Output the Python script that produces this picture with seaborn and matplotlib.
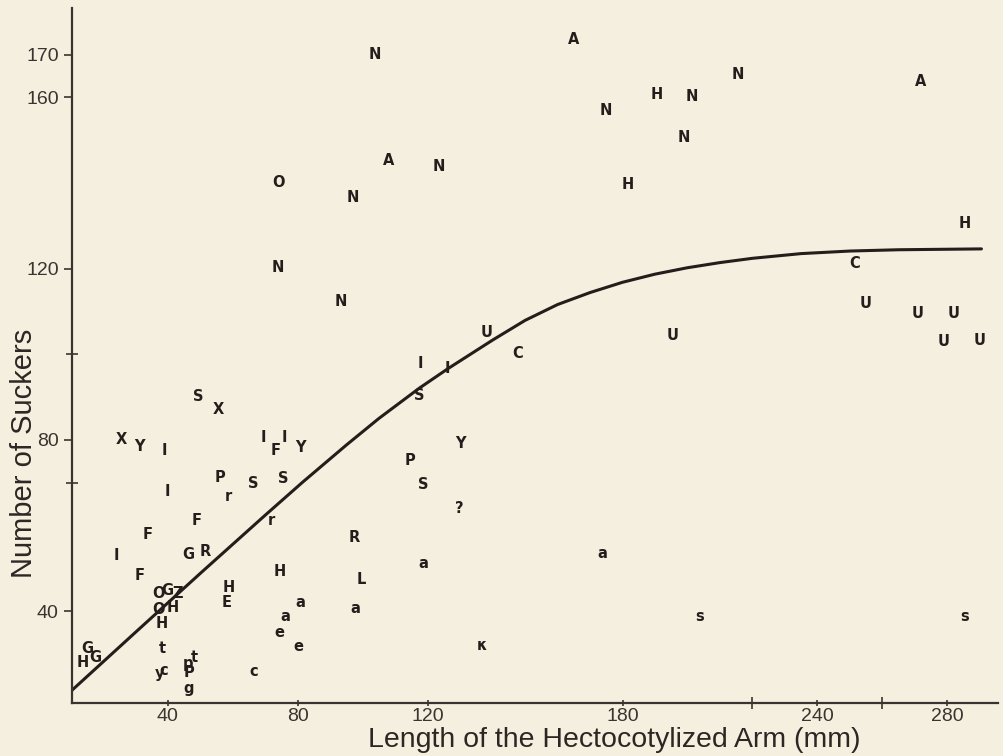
import matplotlib
matplotlib.use("Agg")
from matplotlib import pyplot as plt
import seaborn as sns
import pandas as pd

# letter codes (species) plotted at their measured positions
letters = ["N", "A", "N", "H", "N", "N", "A", "N", "H", "A", "N", "O", "N", "N", "N",
           "H", "C", "U", "U", "U", "U", "U", "U", "U", "C", "I", "I", "S",
           "S", "X", "X", "Y", "I", "I", "P", "r", "S", "S", "I", "F", "I", "Y", "r",
           "F", "F", "I", "G", "R", "F", "H", "H", "E", "O", "G", "Z", "O", "H", "H",
           "t", "y", "c", "p", "t", "P", "g", "c", "G", "H", "G", "a", "a", "e", "e",
           "Y", "P", "S", "?", "R", "a", "a", "L", "a", "κ", "s", "s"]
arm_length = [103.7, 164.9, 174.8, 190.5, 201.2, 215.4, 271.7, 199.0, 181.5, 108.0, 123.4, 74.2, 96.9, 73.8, 93.2,
              285.5, 251.4, 254.8, 271.0, 282.0, 279.0, 289.8, 195.4, 138.2, 147.7, 117.8, 126.2, 117.5,
              49.5, 55.7, 25.8, 31.4, 38.8, 40.0, 56.0, 58.5, 66.2, 75.4, 69.5, 73.2, 76.0, 80.9, 72.0,
              48.9, 33.8, 24.3, 46.2, 51.4, 31.4, 74.5, 58.8, 58.2, 37.2, 40.0, 43.0, 37.0, 41.6, 38.2,
              38.2, 37.5, 38.8, 46.2, 48.3, 46.5, 46.5, 66.5, 15.1, 13.8, 17.8, 80.9, 76.3, 74.2, 80.3,
              130.2, 114.5, 118.5, 129.8, 97.5, 118.8, 173.8, 99.7, 97.8, 136.6, 203.7, 285.2]
suckers = [169.9, 173.4, 157.0, 160.7, 160.3, 165.4, 163.6, 150.7, 139.7, 145.3, 143.9, 140.0, 136.7, 120.3, 112.4,
           130.6, 121.3, 111.9, 109.6, 109.6, 103.0, 103.3, 104.4, 105.1, 100.2, 97.9, 96.7, 90.4,
           90.2, 87.1, 80.1, 78.5, 77.6, 68.0, 71.3, 66.8, 69.9, 71.0, 80.6, 77.6, 80.6, 78.3, 61.2,
           61.2, 57.9, 53.0, 53.3, 54.0, 48.4, 49.3, 45.6, 42.1, 44.2, 44.9, 44.2, 40.4, 40.9, 37.1,
           31.3, 25.5, 26.2, 27.8, 29.2, 25.7, 22.0, 25.9, 31.3, 28.0, 29.2, 42.1, 38.8, 35.0, 31.8,
           79.2, 75.2, 69.6, 64.0, 57.2, 51.2, 53.5, 47.4, 40.7, 32.0, 38.8, 38.8]

# fitted curve
curve_x = [10.5, 30, 50, 70, 81.5, 95, 105, 117.5, 126.2, 140, 150, 160, 170, 180,
           190, 200, 210, 220, 235, 250, 265, 290.5]
curve_y = [21.5, 35.0, 48.8, 62.4, 70.1, 78.8, 85.0, 92.1, 96.6, 103.3, 107.9, 111.6, 114.4, 116.8,
           118.7, 120.2, 121.4, 122.4, 123.5, 124.1, 124.4, 124.6]

x_ticks = [40, 80, 120, 180, 240, 280]
y_ticks = [40, 80, 120, 160, 170]

paper = "#f5efdf"
ink = "#231e1b"
grey = "#3a3430"

sns.set_theme(style="ticks")
plt.rcParams["font.family"] = ["Liberation Sans", "DejaVu Sans"]

fig = plt.figure(figsize=(10.04, 7.56), dpi=100, facecolor=paper)
ax = fig.add_axes([0.0717, 0.070, 0.922, 0.919])
ax.set_facecolor(paper)

curve = pd.DataFrame({"x": curve_x, "y": curve_y})
sns.lineplot(data=curve, x="x", y="y", ax=ax, color=ink, linewidth=2.2, sort=False)

for lab, xv, yv in zip(letters, arm_length, suckers):
    ax.text(xv, yv, lab, ha="center", va="center", fontsize=10.5, fontweight="bold",
            color=ink, family=["DejaVu Sans"])

ax.set_xlim(10.5, 295.5)
ax.set_ylim(18.5, 180.8)
ax.set_xticks(x_ticks)
ax.set_yticks(y_ticks)
ax.set_xticks([220, 260], minor=True)
ax.set_yticks([70, 100], minor=True)
ax.tick_params(axis="both", which="major", labelsize=14, colors=grey, length=6, width=1.2)
ax.tick_params(axis="x", which="major", direction="inout", length=5, pad=1)
ax.tick_params(axis="both", which="minor", direction="inout", length=8, width=1.2, color=grey)

sns.despine(ax=ax)
for s in ["left", "bottom"]:
    ax.spines[s].set_color(grey)
    ax.spines[s].set_linewidth(1.6)

ax.set_xlabel("Length of the Hectocotylized Arm (mm)", fontsize=20.5, color="#2c2724")
ax.set_ylabel("Number of Suckers", fontsize=21, color="#2c2724")
ax.xaxis.set_label_coords(0.586, -0.034)
ax.yaxis.set_label_coords(-0.037, 0.36)

fig.savefig("out.png", dpi=100, facecolor=paper)
